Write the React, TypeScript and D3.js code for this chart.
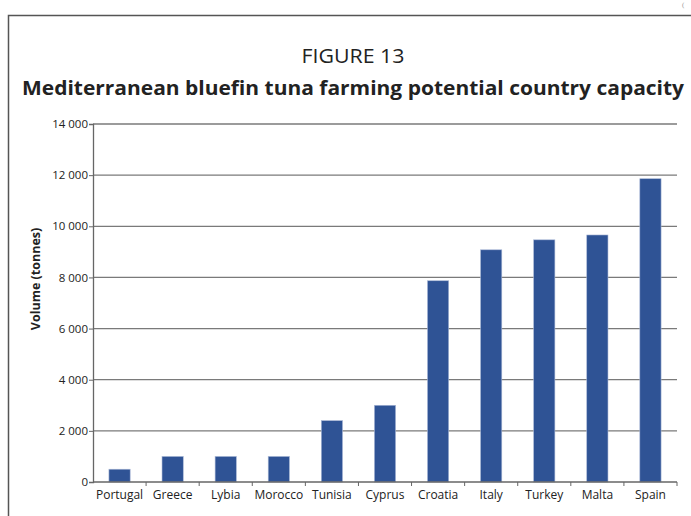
import React, { useRef, useEffect } from 'react';
import * as d3 from 'd3';

const countries = ['Portugal', 'Greece', 'Lybia', 'Morocco', 'Tunisia', 'Cyprus', 'Croatia', 'Italy', 'Turkey', 'Malta', 'Spain'];
const capacity = [500, 1000, 1000, 1000, 2400, 3000, 7870, 9080, 9470, 9660, 11860];
const yTicks = [0, 2000, 4000, 6000, 8000, 10000, 12000, 14000];

const App = () => {
  const svgRef = useRef<SVGSVGElement>(null);

  useEffect(() => {
    const svg = d3.select(svgRef.current);
    svg.selectAll('*').remove();
    const width = 691;
    const height = 516;
    const margin = { top: 124, right: 14, bottom: 34, left: 93 };
    const font = "'Open Sans', 'Noto Sans', sans-serif";

    // outer frame
    svg.append('path')
      .attr('d', `M8.5,${height} V15.5 H${width}`)
      .attr('fill', 'none')
      .attr('stroke', '#555')
      .attr('stroke-width', 1.5);
    svg.append('text').attr('x', 682).attr('y', 7).attr('font-size', 7).attr('fill', '#999').text('(');

    // titles
    svg.append('text')
      .attr('x', 353).attr('y', 63)
      .attr('text-anchor', 'middle')
      .attr('font-family', font)
      .attr('font-size', 20)
      .attr('fill', '#222')
      .attr('textLength', 103)
      .attr('lengthAdjust', 'spacingAndGlyphs')
      .text('FIGURE 13');
    svg.append('text')
      .attr('x', 353).attr('y', 95)
      .attr('text-anchor', 'middle')
      .attr('font-family', font)
      .attr('font-size', 20)
      .attr('font-weight', 'bold')
      .attr('fill', '#222')
      .attr('textLength', 662)
      .attr('lengthAdjust', 'spacingAndGlyphs')
      .text('Mediterranean bluefin tuna farming potential country capacity');

    const x = d3.scaleBand()
      .domain(countries)
      .range([margin.left, width - margin.right])
      .paddingInner(0.6)
      .paddingOuter(0.3);
    const band = d3.scaleBand().domain(countries).range([margin.left, width - margin.right]);

    const y = d3.scaleLinear()
      .domain([0, 14000])
      .range([height - margin.bottom, margin.top]);

    // gridlines
    svg.append('g')
      .selectAll('line')
      .data(yTicks.filter(d => d > 0))
      .enter()
      .append('line')
      .attr('x1', margin.left).attr('x2', width - margin.right)
      .attr('y1', d => y(d)).attr('y2', d => y(d))
      .attr('stroke', '#7a7a7a')
      .attr('stroke-width', 1.3);

    // y axis
    const yAxis = svg.append('g')
      .attr('transform', `translate(${margin.left},0)`)
      .call(d3.axisLeft(y).tickValues(yTicks).tickSize(4).tickPadding(1)
        .tickFormat(d => d3.format(',')(d as number).replace(/,/g, ' ')));
    yAxis.select('.domain').attr('stroke', '#666').attr('stroke-width', 1.3);
    yAxis.selectAll('.tick line').attr('stroke', '#666');
    yAxis.selectAll('text').attr('font-family', font).attr('font-size', 11.5).attr('fill', '#222');

    // bars
    svg.append('g')
      .selectAll('rect')
      .data(countries)
      .enter()
      .append('rect')
      .attr('x', d => x(d) as number)
      .attr('y', (d, i) => y(capacity[i]))
      .attr('width', x.bandwidth())
      .attr('height', (d, i) => y(0) - y(capacity[i]))
      .attr('fill', '#2f5395')
      .attr('stroke', '#aab8d6')
      .attr('stroke-width', 0.6);

    // x axis
    const xg = svg.append('g').attr('transform', `translate(0,${y(0)})`);
    xg.append('line')
      .attr('x1', margin.left).attr('x2', width - margin.right)
      .attr('stroke', '#666').attr('stroke-width', 1.3);
    xg.selectAll('line.tk')
      .data(countries.slice(1).concat(['end']))
      .enter()
      .append('line')
      .attr('class', 'tk')
      .attr('x1', (d, i) => margin.left + band.bandwidth() * (i + 1))
      .attr('x2', (d, i) => margin.left + band.bandwidth() * (i + 1))
      .attr('y1', 0).attr('y2', 4)
      .attr('stroke', '#666');
    xg.selectAll('text')
      .data(countries)
      .enter()
      .append('text')
      .attr('x', d => (band(d) as number) + band.bandwidth() / 2)
      .attr('y', 17)
      .attr('text-anchor', 'middle')
      .attr('font-family', font)
      .attr('font-size', 12)
      .attr('fill', '#222')
      .text(d => d);

    // y label
    svg.append('text')
      .attr('transform', `translate(40,279) rotate(-90)`)
      .attr('text-anchor', 'middle')
      .attr('font-family', font)
      .attr('font-size', 12.5)
      .attr('font-weight', 'bold')
      .attr('fill', '#222')
      .text('Volume (tonnes)');
  }, []);

  return (
    <svg ref={svgRef} width="691" height="516" style={{ position: 'absolute', left: 0, top: 0, background: '#fff' }}></svg>
  );
};

export default App;
